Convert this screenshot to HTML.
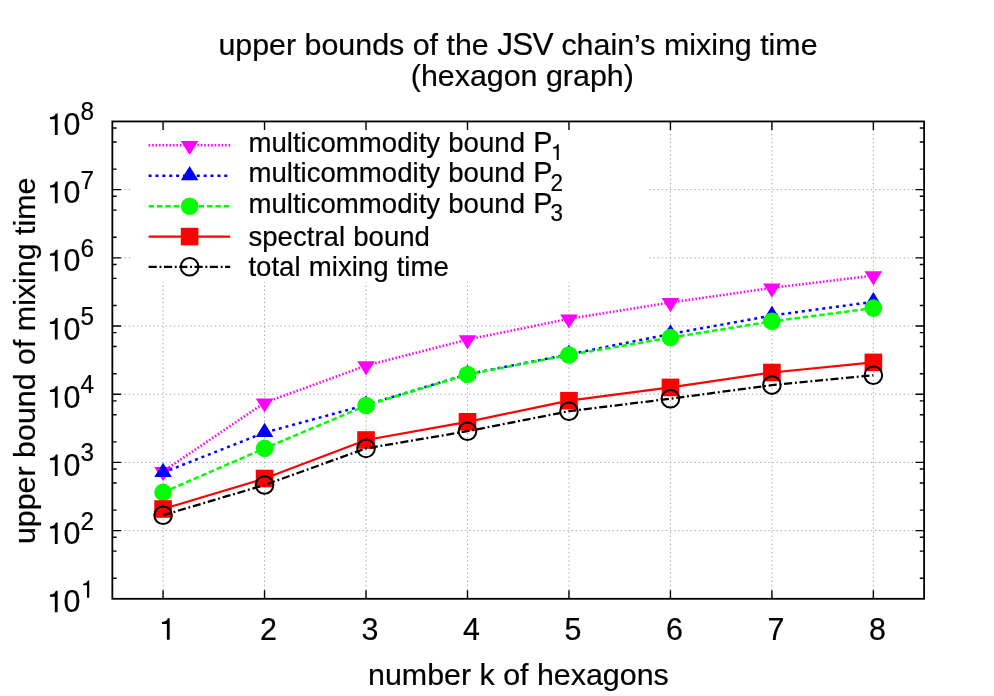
<!DOCTYPE html>
<html><head><meta charset="utf-8"><title>chart</title>
<style>html,body{margin:0;padding:0;background:#fff}body{width:994px;height:696px;overflow:hidden;position:relative;font-size:0;line-height:0}svg{display:block;position:absolute;left:0;top:0;will-change:transform}text{font-family:"Liberation Sans",sans-serif;fill:#000;stroke:#000;stroke-width:0.2px}</style>
</head><body>
<svg width="994" height="696" viewBox="0 0 994 696">
<rect x="0" y="0" width="994" height="696" fill="#fff"/>
<path d="M163.08 121.45V598.80M264.55 121.45V598.80M366.02 121.45V598.80M467.49 121.45V598.80M568.96 121.45V598.80M670.43 121.45V598.80M771.90 121.45V598.80M873.37 121.45V598.80M112.35 530.61H924.10M112.35 462.41H924.10M112.35 394.22H924.10M112.35 326.03H924.10M112.35 257.84H924.10M112.35 189.64H924.10" fill="none" stroke="#a8a8a8" stroke-width="1" stroke-dasharray="1.4 2.7"/>
<rect x="131" y="121.45" width="517.5" height="160.55" fill="#fff"/>
<path d="M163.08 471.40L264.55 402.80L366.02 365.60L467.49 339.60L568.96 318.80L670.43 302.50L771.90 287.90L873.37 275.60" fill="none" stroke="#ff00ff" stroke-width="2.6" stroke-dasharray="1.55 1.928"/>
<path d="M163.08 481.20L154.28 467.00L171.88 467.00Z" fill="#ff00ff"/>
<path d="M264.55 412.60L255.75 398.40L273.35 398.40Z" fill="#ff00ff"/>
<path d="M366.02 375.40L357.22 361.20L374.82 361.20Z" fill="#ff00ff"/>
<path d="M467.49 349.40L458.69 335.20L476.29 335.20Z" fill="#ff00ff"/>
<path d="M568.96 328.60L560.16 314.40L577.76 314.40Z" fill="#ff00ff"/>
<path d="M670.43 312.30L661.63 298.10L679.23 298.10Z" fill="#ff00ff"/>
<path d="M771.90 297.70L763.10 283.50L780.70 283.50Z" fill="#ff00ff"/>
<path d="M873.37 285.40L864.57 271.20L882.17 271.20Z" fill="#ff00ff"/>
<path d="M148.6 145.3H230.2" fill="none" stroke="#ff00ff" stroke-width="2.6" stroke-dasharray="1.55 1.928"/>
<path d="M189.60 155.10L180.80 140.90L198.40 140.90Z" fill="#ff00ff"/>
<path d="M163.08 472.60L264.55 432.60L366.02 405.00L467.49 374.20L568.96 354.40L670.43 334.00L771.90 315.50L873.37 301.80" fill="none" stroke="#0000ff" stroke-width="2.5" stroke-dasharray="3.0 3.88"/>
<path d="M163.08 462.80L154.28 477.00L171.88 477.00Z" fill="#0000ff"/>
<path d="M264.55 422.80L255.75 437.00L273.35 437.00Z" fill="#0000ff"/>
<path d="M366.02 395.20L357.22 409.40L374.82 409.40Z" fill="#0000ff"/>
<path d="M467.49 364.40L458.69 378.60L476.29 378.60Z" fill="#0000ff"/>
<path d="M568.96 344.60L560.16 358.80L577.76 358.80Z" fill="#0000ff"/>
<path d="M670.43 324.20L661.63 338.40L679.23 338.40Z" fill="#0000ff"/>
<path d="M771.90 305.70L763.10 319.90L780.70 319.90Z" fill="#0000ff"/>
<path d="M873.37 292.00L864.57 306.20L882.17 306.20Z" fill="#0000ff"/>
<path d="M148.6 175.8H230.2" fill="none" stroke="#0000ff" stroke-width="2.5" stroke-dasharray="3.0 3.88"/>
<path d="M189.60 166.00L180.80 180.20L198.40 180.20Z" fill="#0000ff"/>
<path d="M163.08 492.40L264.55 448.40L366.02 405.50L467.49 374.50L568.96 355.00L670.43 337.60L771.90 321.40L873.37 308.10" fill="none" stroke="#00ff00" stroke-width="2.5" stroke-dasharray="5.5 2.837"/>
<circle cx="163.08" cy="492.40" r="8.8" fill="#00ff00"/>
<circle cx="264.55" cy="448.40" r="8.8" fill="#00ff00"/>
<circle cx="366.02" cy="405.50" r="8.8" fill="#00ff00"/>
<circle cx="467.49" cy="374.50" r="8.8" fill="#00ff00"/>
<circle cx="568.96" cy="355.00" r="8.8" fill="#00ff00"/>
<circle cx="670.43" cy="337.60" r="8.8" fill="#00ff00"/>
<circle cx="771.90" cy="321.40" r="8.8" fill="#00ff00"/>
<circle cx="873.37" cy="308.10" r="8.8" fill="#00ff00"/>
<path d="M148.6 206.2H230.2" fill="none" stroke="#00ff00" stroke-width="2.5" stroke-dasharray="5.5 2.837"/>
<circle cx="189.60" cy="206.20" r="8.8" fill="#00ff00"/>
<path d="M163.08 509.00L264.55 478.50L366.02 440.00L467.49 421.80L568.96 400.70L670.43 387.40L771.90 372.50L873.37 362.40" fill="none" stroke="#ff0000" stroke-width="2.2"/>
<rect x="154.28" y="500.20" width="17.6" height="17.6" fill="#ff0000"/>
<rect x="255.75" y="469.70" width="17.6" height="17.6" fill="#ff0000"/>
<rect x="357.22" y="431.20" width="17.6" height="17.6" fill="#ff0000"/>
<rect x="458.69" y="413.00" width="17.6" height="17.6" fill="#ff0000"/>
<rect x="560.16" y="391.90" width="17.6" height="17.6" fill="#ff0000"/>
<rect x="661.63" y="378.60" width="17.6" height="17.6" fill="#ff0000"/>
<rect x="763.10" y="363.70" width="17.6" height="17.6" fill="#ff0000"/>
<rect x="864.57" y="353.60" width="17.6" height="17.6" fill="#ff0000"/>
<path d="M148.6 236.6H230.2" fill="none" stroke="#ff0000" stroke-width="2.2"/>
<rect x="180.80" y="227.80" width="17.6" height="17.6" fill="#ff0000"/>
<path d="M163.08 515.20L264.55 485.00L366.02 448.40L467.49 431.20L568.96 411.20L670.43 398.70L771.90 385.10L873.37 375.20" fill="none" stroke="#000000" stroke-width="2.3" stroke-dasharray="8.1 2.77 1.9 2.765"/>
<circle cx="163.08" cy="515.20" r="8.8" fill="none" stroke="#000000" stroke-width="2.0"/>
<circle cx="264.55" cy="485.00" r="8.8" fill="none" stroke="#000000" stroke-width="2.0"/>
<circle cx="366.02" cy="448.40" r="8.8" fill="none" stroke="#000000" stroke-width="2.0"/>
<circle cx="467.49" cy="431.20" r="8.8" fill="none" stroke="#000000" stroke-width="2.0"/>
<circle cx="568.96" cy="411.20" r="8.8" fill="none" stroke="#000000" stroke-width="2.0"/>
<circle cx="670.43" cy="398.70" r="8.8" fill="none" stroke="#000000" stroke-width="2.0"/>
<circle cx="771.90" cy="385.10" r="8.8" fill="none" stroke="#000000" stroke-width="2.0"/>
<circle cx="873.37" cy="375.20" r="8.8" fill="none" stroke="#000000" stroke-width="2.0"/>
<path d="M148.6 266.8H230.2" fill="none" stroke="#000000" stroke-width="2.3" stroke-dasharray="8.2 2.7 1.9 2.5"/>
<circle cx="189.60" cy="266.80" r="8.8" fill="none" stroke="#000000" stroke-width="2.0"/>
<rect x="112.35" y="121.45" width="811.75" height="477.35" fill="none" stroke="#000" stroke-width="1.8"/>
<path d="M163.08 598.80v-8.6M163.08 121.45v8.6M264.55 598.80v-8.6M264.55 121.45v8.6M366.02 598.80v-8.6M366.02 121.45v8.6M467.49 598.80v-8.6M467.49 121.45v8.6M568.96 598.80v-8.6M568.96 121.45v8.6M670.43 598.80v-8.6M670.43 121.45v8.6M771.90 598.80v-8.6M771.90 121.45v8.6M873.37 598.80v-8.6M873.37 121.45v8.6M112.35 578.27h4.3M924.10 578.27h-4.3M112.35 551.14h4.3M924.10 551.14h-4.3M112.35 537.22h4.3M924.10 537.22h-4.3M112.35 530.61h8.6M924.10 530.61h-8.6M112.35 510.08h4.3M924.10 510.08h-4.3M112.35 482.94h4.3M924.10 482.94h-4.3M112.35 469.02h4.3M924.10 469.02h-4.3M112.35 462.41h8.6M924.10 462.41h-8.6M112.35 441.89h4.3M924.10 441.89h-4.3M112.35 414.75h4.3M924.10 414.75h-4.3M112.35 400.83h4.3M924.10 400.83h-4.3M112.35 394.22h8.6M924.10 394.22h-8.6M112.35 373.69h4.3M924.10 373.69h-4.3M112.35 346.56h4.3M924.10 346.56h-4.3M112.35 332.64h4.3M924.10 332.64h-4.3M112.35 326.03h8.6M924.10 326.03h-8.6M112.35 305.50h4.3M924.10 305.50h-4.3M112.35 278.36h4.3M924.10 278.36h-4.3M112.35 264.44h4.3M924.10 264.44h-4.3M112.35 257.84h8.6M924.10 257.84h-8.6M112.35 237.31h4.3M924.10 237.31h-4.3M112.35 210.17h4.3M924.10 210.17h-4.3M112.35 196.25h4.3M924.10 196.25h-4.3M112.35 189.64h8.6M924.10 189.64h-8.6M112.35 169.11h4.3M924.10 169.11h-4.3M112.35 141.98h4.3M924.10 141.98h-4.3M112.35 128.06h4.3M924.10 128.06h-4.3" fill="none" stroke="#000" stroke-width="1.4"/>
<text x="518.0" y="55.2" font-size="30.4" text-anchor="middle">upper bounds of the <tspan font-size="31.62" letter-spacing="-0.74">JSV</tspan> chain’s mixing time</text>
<text x="522.3" y="86" font-size="30.4" text-anchor="middle">(hexagon graph)</text>
<text x="518.4" y="684.6" font-size="30.4" text-anchor="middle">number k of hexagons</text>
<text transform="translate(35.3 360.8) rotate(-90)" font-size="30.4" text-anchor="middle">upper bound of mixing time</text>
<path d="M744 0H555V1051H227V1192Q420 1205 500 1270Q580 1340 620 1450H744Z" transform="translate(158.63 639.70) scale(0.01484 -0.01484)" fill="#000"/>
<text transform="translate(268.55 639.70) scale(1 1.04)" font-size="30.40" text-anchor="middle">2</text>
<text transform="translate(370.02 639.70) scale(1 1.04)" font-size="30.40" text-anchor="middle">3</text>
<text transform="translate(471.49 639.70) scale(1 1.04)" font-size="30.40" text-anchor="middle">4</text>
<text transform="translate(572.96 639.70) scale(1 1.04)" font-size="30.40" text-anchor="middle">5</text>
<text transform="translate(674.43 639.70) scale(1 1.04)" font-size="30.40" text-anchor="middle">6</text>
<text transform="translate(775.90 639.70) scale(1 1.04)" font-size="30.40" text-anchor="middle">7</text>
<text transform="translate(877.37 639.70) scale(1 1.04)" font-size="30.40" text-anchor="middle">8</text>
<path d="M744 0H555V1051H227V1192Q420 1205 500 1270Q580 1340 620 1450H744Z" transform="translate(46.60 612.30) scale(0.01484 -0.01484)" fill="#000"/>
<text transform="translate(63.51 612.30) scale(1 1.04)" font-size="30.40" text-anchor="start">0</text>
<path d="M744 0H555V1051H227V1192Q420 1205 500 1270Q580 1340 620 1450H744Z" transform="translate(80.41 597.80) scale(0.01188 -0.01188)" fill="#000"/>
<path d="M744 0H555V1051H227V1192Q420 1205 500 1270Q580 1340 620 1450H744Z" transform="translate(46.60 544.11) scale(0.01484 -0.01484)" fill="#000"/>
<text transform="translate(63.51 544.11) scale(1 1.04)" font-size="30.40" text-anchor="start">0</text>
<text transform="translate(80.41 529.61) scale(1 1.04)" font-size="24.32" text-anchor="start">2</text>
<path d="M744 0H555V1051H227V1192Q420 1205 500 1270Q580 1340 620 1450H744Z" transform="translate(46.60 475.91) scale(0.01484 -0.01484)" fill="#000"/>
<text transform="translate(63.51 475.91) scale(1 1.04)" font-size="30.40" text-anchor="start">0</text>
<text transform="translate(80.41 461.41) scale(1 1.04)" font-size="24.32" text-anchor="start">3</text>
<path d="M744 0H555V1051H227V1192Q420 1205 500 1270Q580 1340 620 1450H744Z" transform="translate(46.60 407.72) scale(0.01484 -0.01484)" fill="#000"/>
<text transform="translate(63.51 407.72) scale(1 1.04)" font-size="30.40" text-anchor="start">0</text>
<text transform="translate(80.41 393.22) scale(1 1.04)" font-size="24.32" text-anchor="start">4</text>
<path d="M744 0H555V1051H227V1192Q420 1205 500 1270Q580 1340 620 1450H744Z" transform="translate(46.60 339.53) scale(0.01484 -0.01484)" fill="#000"/>
<text transform="translate(63.51 339.53) scale(1 1.04)" font-size="30.40" text-anchor="start">0</text>
<text transform="translate(80.41 325.03) scale(1 1.04)" font-size="24.32" text-anchor="start">5</text>
<path d="M744 0H555V1051H227V1192Q420 1205 500 1270Q580 1340 620 1450H744Z" transform="translate(46.60 271.34) scale(0.01484 -0.01484)" fill="#000"/>
<text transform="translate(63.51 271.34) scale(1 1.04)" font-size="30.40" text-anchor="start">0</text>
<text transform="translate(80.41 256.84) scale(1 1.04)" font-size="24.32" text-anchor="start">6</text>
<path d="M744 0H555V1051H227V1192Q420 1205 500 1270Q580 1340 620 1450H744Z" transform="translate(46.60 203.14) scale(0.01484 -0.01484)" fill="#000"/>
<text transform="translate(63.51 203.14) scale(1 1.04)" font-size="30.40" text-anchor="start">0</text>
<text transform="translate(80.41 188.64) scale(1 1.04)" font-size="24.32" text-anchor="start">7</text>
<path d="M744 0H555V1051H227V1192Q420 1205 500 1270Q580 1340 620 1450H744Z" transform="translate(46.60 134.95) scale(0.01484 -0.01484)" fill="#000"/>
<text transform="translate(63.51 134.95) scale(1 1.04)" font-size="30.40" text-anchor="start">0</text>
<text transform="translate(80.41 120.45) scale(1 1.04)" font-size="24.32" text-anchor="start">8</text>
<text x="248.45" y="151.8" font-size="27.6" word-spacing="0.5" id="lt0">multicommodity bound <tspan font-size="28.70">P</tspan></text>
<text x="248.45" y="182.4" font-size="27.6" word-spacing="0.5" id="lt1">multicommodity bound <tspan font-size="28.70">P</tspan></text>
<text x="248.45" y="212.6" font-size="27.6" word-spacing="0.5" id="lt2">multicommodity bound <tspan font-size="28.70">P</tspan></text>
<text x="248.45" y="246.0" font-size="27.6" word-spacing="0.5" id="lt3">spectral bound</text>
<text x="248.45" y="276.4" font-size="27.6" word-spacing="0.5" id="lt4">total mixing time</text>
<path d="M744 0H555V1051H227V1192Q420 1205 500 1270Q580 1340 620 1450H744Z" transform="translate(550.60 160.10) scale(0.01094 -0.01094)" fill="#000"/>
<text transform="translate(550.60 190.70) scale(1 1.04)" font-size="22.40" text-anchor="start">2</text>
<text transform="translate(550.60 220.90) scale(1 1.04)" font-size="22.40" text-anchor="start">3</text>
</svg></body></html>
